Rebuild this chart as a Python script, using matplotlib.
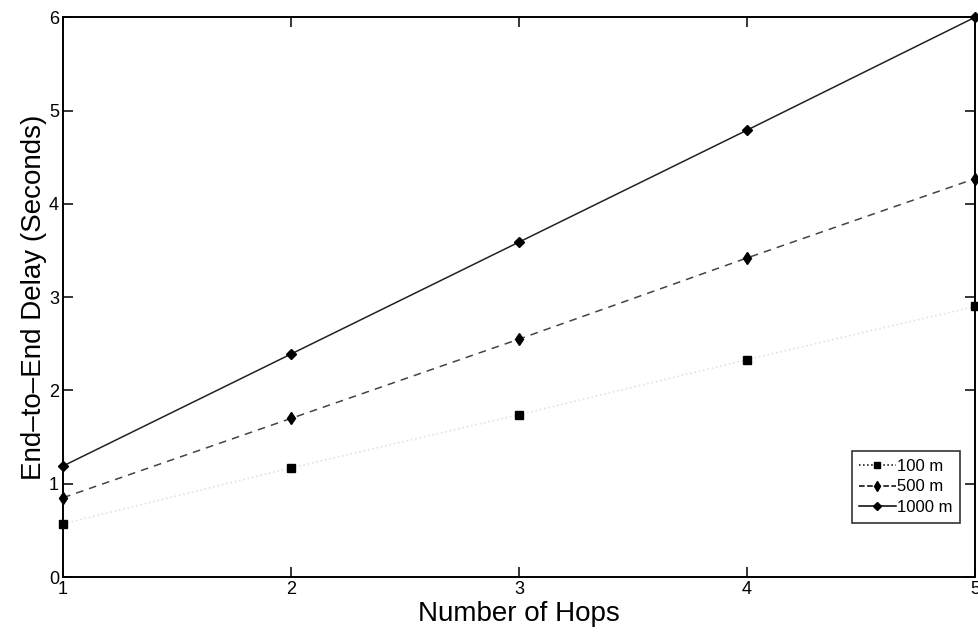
import matplotlib
matplotlib.use("Agg")
import matplotlib.pyplot as plt

# Data
hops = [1, 2, 3, 4, 5]
delay_100m = [0.57, 1.17, 1.74, 2.33, 2.90]
delay_500m = [0.85, 1.70, 2.55, 3.42, 4.27]
delay_1000m = [1.19, 2.39, 3.59, 4.79, 6.00]
labels = ["100 m", "500 m", "1000 m"]

plt.rcParams["font.family"] = ["Liberation Sans Narrow", "Liberation Sans", "DejaVu Sans"]

fig = plt.figure(figsize=(9.79, 6.38), dpi=100)
ax = fig.add_axes([0.0644, 0.0956, 0.9316, 0.8774])

# faint dotted line for 100 m, markers drawn solid
ax.plot(hops, delay_100m, linestyle=":", color="#e2e2e2", linewidth=1.2)
ax.plot(hops, delay_100m, linestyle="none", marker="s", markersize=6,
        color="black", clip_on=False)
ax.plot(hops, delay_500m, linestyle="--", color="#444444", linewidth=1.1,
        dashes=(5, 4), marker="d", markersize=6, markerfacecolor="black",
        markeredgecolor="black", clip_on=False)
ax.plot(hops, delay_1000m, linestyle="-", color="#222222", linewidth=1.1,
        marker="D", markersize=5.5, markerfacecolor="black",
        markeredgecolor="black", clip_on=False)

# legend proxies
h1, = ax.plot([], [], linestyle=":", color="black", marker="s", markersize=5, linewidth=1.1)
h2, = ax.plot([], [], linestyle="--", color="black", marker="d", markersize=5, linewidth=1.1)
h3, = ax.plot([], [], linestyle="-", color="black", marker="D", markersize=4.5, linewidth=1.1)
leg = ax.legend([h1, h2, h3], labels, loc="lower right", bbox_to_anchor=(0.993, 0.082),
                fontsize=12, frameon=True, fancybox=False, handlelength=2.2,
                handletextpad=0.1, borderpad=0.45, labelspacing=0.35)
leg.get_frame().set_edgecolor("black")
leg.get_frame().set_linewidth(1.2)

ax.set_xlim(1, 5)
ax.set_ylim(0, 6)
ax.set_xticks(hops)
ax.set_yticks([0, 1, 2, 3, 4, 5, 6])
ax.tick_params(direction="in", length=7, width=1.1, top=True, right=True,
               labelsize=13, pad=3)
for side in ax.spines.values():
    side.set_linewidth(1.4)

ax.set_xlabel("Number of Hops", fontsize=20, labelpad=2)
ax.set_ylabel("End\u2013to\u2013End Delay (Seconds)", fontsize=20, labelpad=1)

fig.savefig("out.png", dpi=100)
